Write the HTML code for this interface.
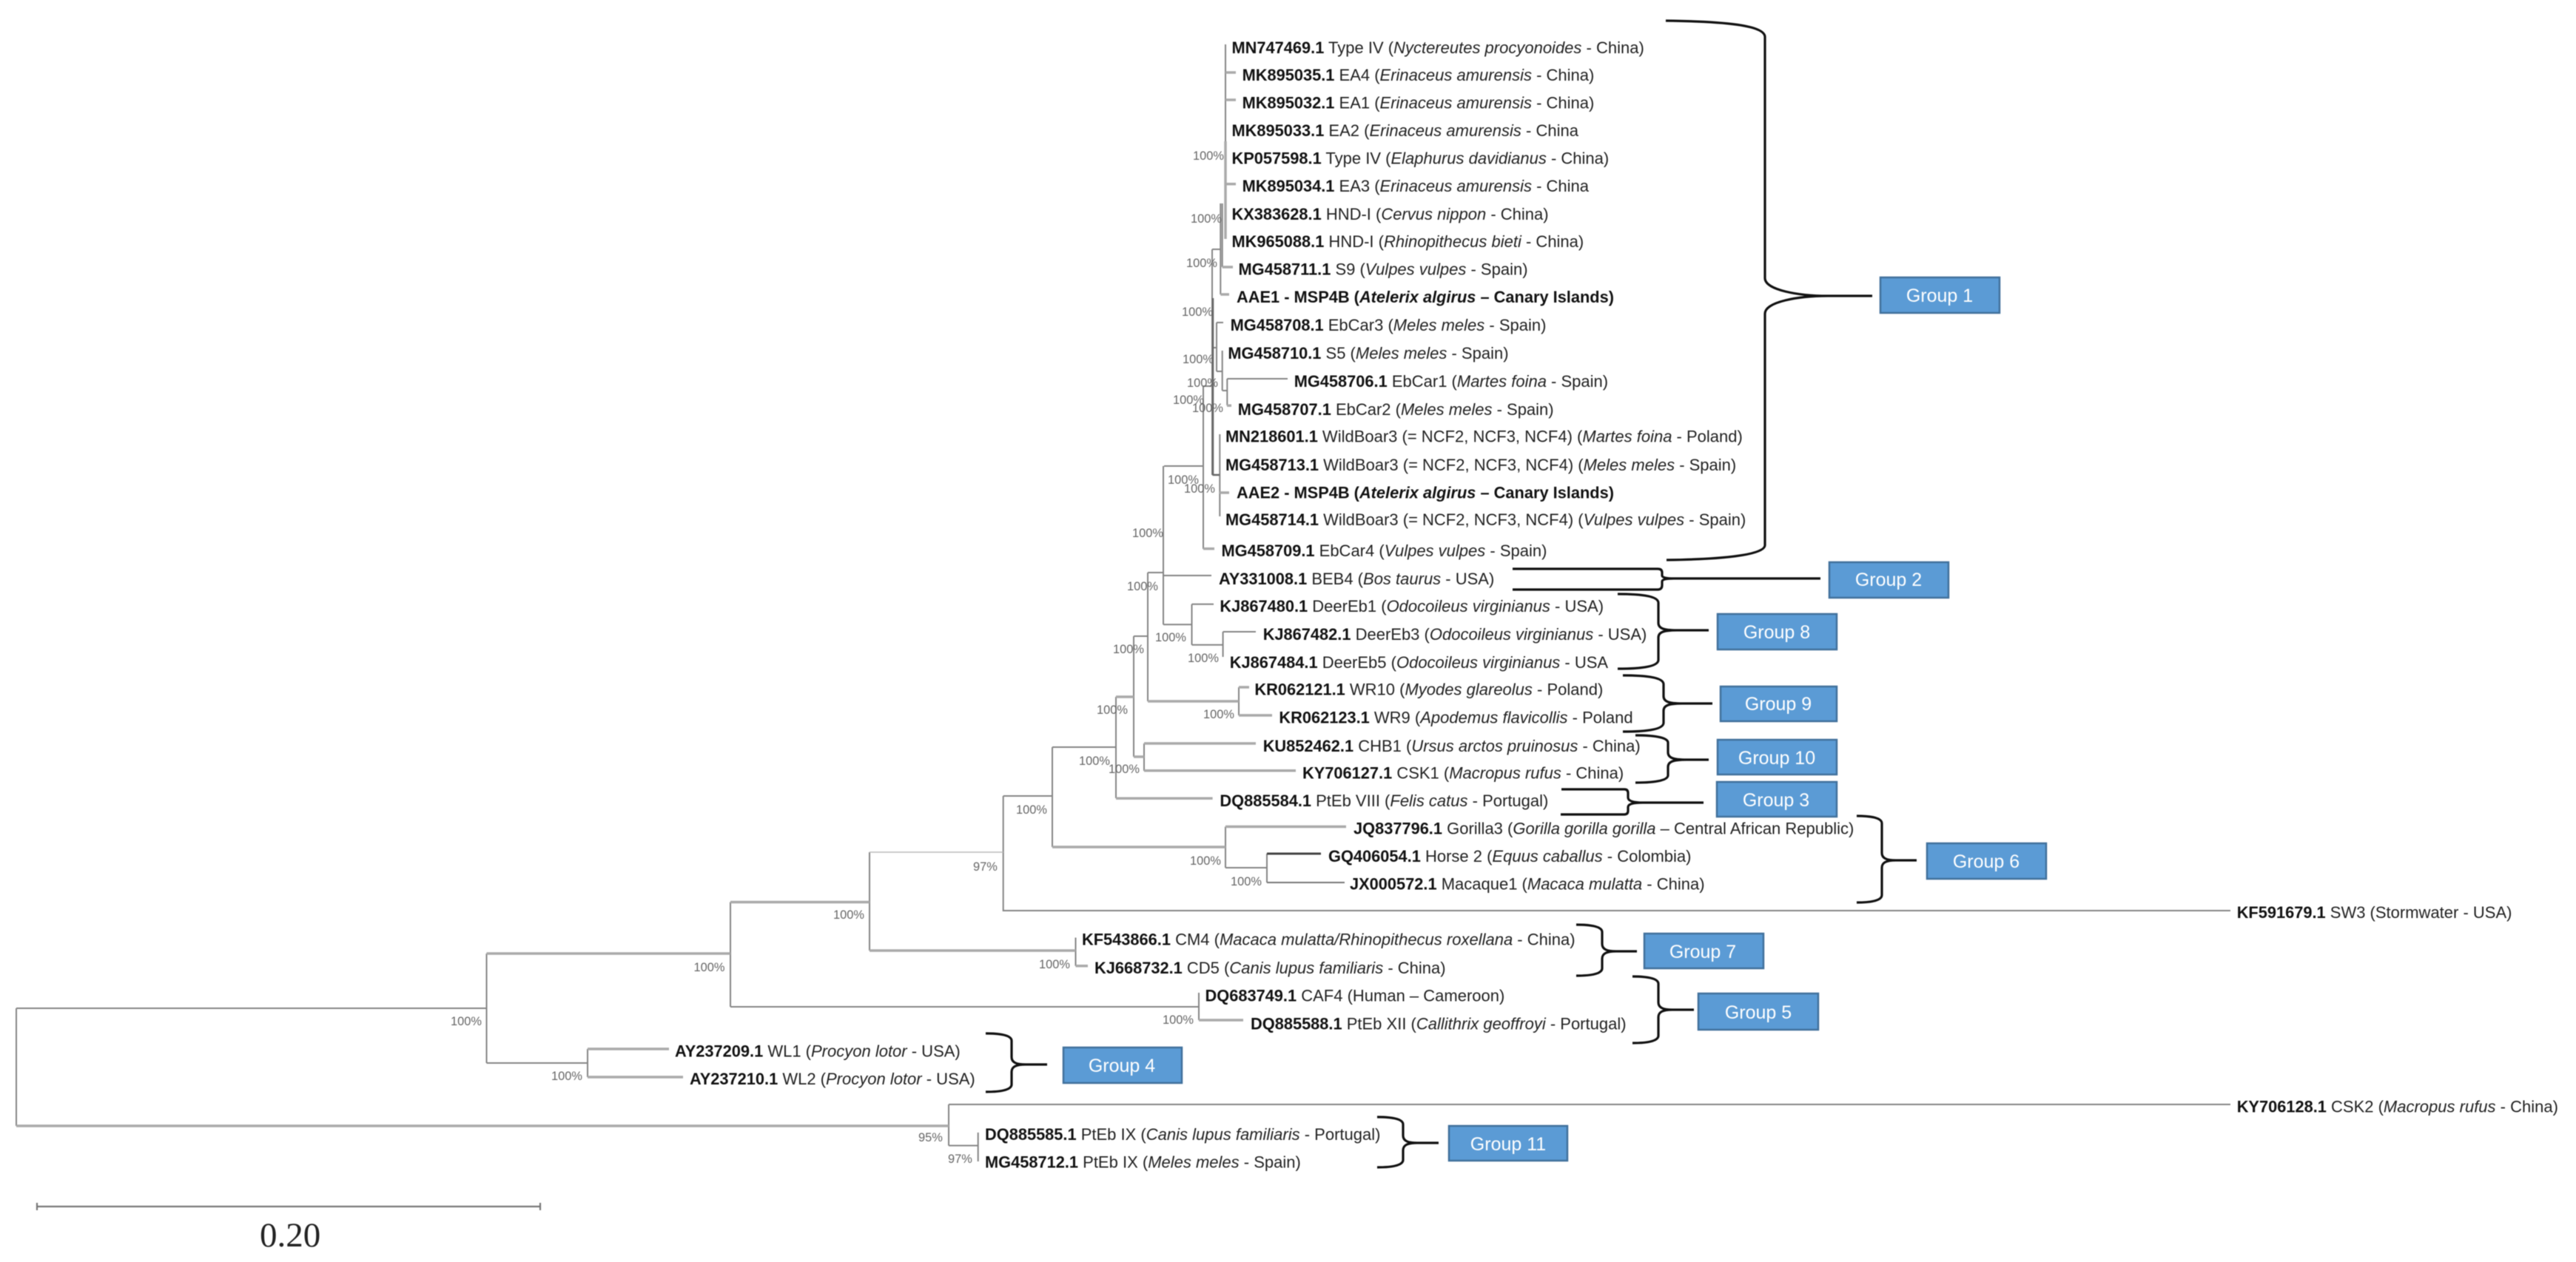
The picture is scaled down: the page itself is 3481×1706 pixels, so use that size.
<!DOCTYPE html>
<html><head><meta charset="utf-8"><style>
html,body{margin:0;padding:0;background:#fff;width:3481px;height:1706px;overflow:hidden}
svg{display:block;filter:blur(0.55px)}
.l{font:22px "Liberation Sans",sans-serif;fill:#222}
.l .b{font-weight:bold;fill:#111;font-size:21.8px}
.l .i{font-style:italic}
.p{font:16.4px "Liberation Sans",sans-serif;fill:#666}
.g{font:25px "Liberation Sans",sans-serif;fill:#fff;text-anchor:middle}
.t path{fill:none;stroke:#858585;stroke-width:2}
.t2 path{fill:none;stroke:#aaa;stroke-width:3.5}
.br path{fill:none;stroke:#111;stroke-width:3.2}
.bx rect{fill:#5b9bd5;stroke:#41719c;stroke-width:2.5}
</style></head><body>
<svg width="3481" height="1706" viewBox="0 0 3481 1706" xmlns="http://www.w3.org/2000/svg">
<rect width="3481" height="1706" fill="#fff"/>
<g class="t">
<path d="M22 1363V1522M22 1363H657.5M657.5 1289V1437M657.5 1437H794M794 1418V1456"/>
<path d="M987 1219.5V1361M987 1361H1620M1620 1342V1379"/>
<path d="M1175 1152V1285M1453.5 1267.5V1305.7"/>
<path d="M1355.7 1076V1231H3014M1355.7 1076H1422M1422 1010V1145"/>
<path d="M1656 1117.5V1173M1656 1173H1712M1712 1154V1193M1712 1193H1817"/>
<path d="M1422 1010H1508M1508 942V1079M1532 860V1023M1532 1023H1546M1546 1005V1042"/>
<path d="M1551 774V948M1551 860H1532M1551 774H1572M1572 630V844.3M1572 778H1637M1572 844.3H1610.5M1610.5 816.7V871.7M1610.5 816.7H1640M1610.5 871.7H1652.6M1652.6 854V888M1652.6 854H1697"/>
<path d="M1551 948H1674M1674 929V967"/>
<path d="M1573 630H1626M1626 522V742M1626 522H1638M1638 337V642"/>
<path d="M1638 642H1648.3M1648.3 587V698M1638 337H1649.3M1649.3 275V398M1651.7 275V361"/>
<path d="M1638 470H1644M1644 436V502M1644 436H1653M1644 502H1651.7M1651.7 474V528M1651.7 528H1658.3M1658.3 512V548M1658.3 512H1740"/>
<path d="M1282 1493H3014M1282 1493V1548.6M1282 1548.6H1321.7M1321.7 1531V1570"/>
<path d="M1656 60V192"/>
</g>
<g class="t2">
<path d="M22 1522H1282M657.5 1289H987M794 1418H904M794 1456H923"/>
<path d="M987 1219.5H1175M1175 1285H1453.5M1453.5 1305.7H1470"/>
<path d="M1620 1379H1680M1422 1145H1656M1656 1117.5H1819"/>
<path d="M1508 942H1532M1508 1079.3H1638.6M1532 1023H1546M1546 1005H1697M1546 1041.7H1751"/>
<path d="M1551 948H1674M1674 929H1688M1674 967H1719"/>
<path d="M1626 741.7H1641M1648 666H1661M1656 191V323M1656 248.7H1670M1651.7 361H1666M1649.3 398H1661M1658 548.3H1664"/>
<path d="M1656 98H1670M1656 135H1670"/>
</g>
<path d="M1175 1152H1355.7" fill="none" stroke="#bbb" stroke-width="1.5"/>
<path d="M1712 1154H1785" fill="none" stroke="#444" stroke-width="3"/>
<path d="M1712 1193H1817" fill="none" stroke="#777" stroke-width="2"/>
<path d="M1639 403V642M1639 642H1648" fill="none" stroke="#666" stroke-width="2.5"/>
<path d="M50 1631H730M50 1626V1636M730 1626V1636" fill="none" stroke="#777" stroke-width="2.2"/>

<g class="l">
<text x="1664.5" y="72"><tspan class="b">MN747469.1</tspan> Type IV (<tspan class="i">Nyctereutes procyonoides</tspan> - China)</text>
<text x="1678.6" y="109"><tspan class="b">MK895035.1</tspan> EA4 (<tspan class="i">Erinaceus amurensis</tspan> - China)</text>
<text x="1678.6" y="146.5"><tspan class="b">MK895032.1</tspan> EA1 (<tspan class="i">Erinaceus amurensis</tspan> - China)</text>
<text x="1664.5" y="184"><tspan class="b">MK895033.1</tspan> EA2 (<tspan class="i">Erinaceus amurensis</tspan> - China</text>
<text x="1664.5" y="221.5"><tspan class="b">KP057598.1</tspan> Type IV (<tspan class="i">Elaphurus davidianus</tspan> - China)</text>
<text x="1678.6" y="259"><tspan class="b">MK895034.1</tspan> EA3 (<tspan class="i">Erinaceus amurensis</tspan> - China</text>
<text x="1664.5" y="297"><tspan class="b">KX383628.1</tspan> HND-I (<tspan class="i">Cervus nippon</tspan> - China)</text>
<text x="1664.5" y="334"><tspan class="b">MK965088.1</tspan> HND-I (<tspan class="i">Rhinopithecus bieti</tspan> - China)</text>
<text x="1673.5" y="371.5"><tspan class="b">MG458711.1</tspan> S9 (<tspan class="i">Vulpes vulpes</tspan> - Spain)</text>
<text x="1671" y="409"><tspan class="b">AAE1 - MSP4B (</tspan><tspan class="b i">Atelerix algirus</tspan><tspan class="b"> – Canary Islands)</tspan></text>
<text x="1662.6" y="447"><tspan class="b">MG458708.1</tspan> EbCar3 (<tspan class="i">Meles meles</tspan> - Spain)</text>
<text x="1659.4" y="485"><tspan class="b">MG458710.1</tspan> S5 (<tspan class="i">Meles meles</tspan> - Spain)</text>
<text x="1748.7" y="523"><tspan class="b">MG458706.1</tspan> EbCar1 (<tspan class="i">Martes foina</tspan> - Spain)</text>
<text x="1672.8" y="561"><tspan class="b">MG458707.1</tspan> EbCar2 (<tspan class="i">Meles meles</tspan> - Spain)</text>
<text x="1656" y="597.5"><tspan class="b">MN218601.1</tspan> WildBoar3 (= NCF2, NCF3, NCF4) (<tspan class="i">Martes foina</tspan> - Poland)</text>
<text x="1656" y="636"><tspan class="b">MG458713.1</tspan> WildBoar3 (= NCF2, NCF3, NCF4) (<tspan class="i">Meles meles</tspan> - Spain)</text>
<text x="1671" y="673.5"><tspan class="b">AAE2 - MSP4B (</tspan><tspan class="b i">Atelerix algirus</tspan><tspan class="b"> – Canary Islands)</tspan></text>
<text x="1656" y="710"><tspan class="b">MG458714.1</tspan> WildBoar3 (= NCF2, NCF3, NCF4) (<tspan class="i">Vulpes vulpes</tspan> - Spain)</text>
<text x="1650.5" y="752"><tspan class="b">MG458709.1</tspan> EbCar4 (<tspan class="i">Vulpes vulpes</tspan> - Spain)</text>
<text x="1647" y="790"><tspan class="b">AY331008.1</tspan> BEB4 (<tspan class="i">Bos taurus</tspan> - USA)</text>
<text x="1648.4" y="827"><tspan class="b">KJ867480.1</tspan> DeerEb1 (<tspan class="i">Odocoileus virginianus</tspan> - USA)</text>
<text x="1706.7" y="865"><tspan class="b">KJ867482.1</tspan> DeerEb3 (<tspan class="i">Odocoileus virginianus</tspan> - USA)</text>
<text x="1661.8" y="903"><tspan class="b">KJ867484.1</tspan> DeerEb5 (<tspan class="i">Odocoileus virginianus</tspan> - USA</text>
<text x="1695.4" y="939.5"><tspan class="b">KR062121.1</tspan> WR10 (<tspan class="i">Myodes glareolus</tspan> - Poland)</text>
<text x="1728.4" y="977.5"><tspan class="b">KR062123.1</tspan> WR9 (<tspan class="i">Apodemus flavicollis</tspan> - Poland</text>
<text x="1706.7" y="1016"><tspan class="b">KU852462.1</tspan> CHB1 (<tspan class="i">Ursus arctos pruinosus</tspan> - China)</text>
<text x="1760" y="1052.5"><tspan class="b">KY706127.1</tspan> CSK1 (<tspan class="i">Macropus rufus</tspan> - China)</text>
<text x="1648.4" y="1090"><tspan class="b">DQ885584.1</tspan> PtEb VIII (<tspan class="i">Felis catus</tspan> - Portugal)</text>
<text x="1829" y="1127.5"><tspan class="b">JQ837796.1</tspan> Gorilla3 (<tspan class="i">Gorilla gorilla gorilla</tspan> – Central African Republic)</text>
<text x="1795" y="1165"><tspan class="b">GQ406054.1</tspan> Horse 2 (<tspan class="i">Equus caballus</tspan> - Colombia)</text>
<text x="1824" y="1202.5"><tspan class="b">JX000572.1</tspan> Macaque1 (<tspan class="i">Macaca mulatta</tspan> - China)</text>
<text x="3022.7" y="1241"><tspan class="b">KF591679.1</tspan> SW3 (Stormwater - USA)</text>
<text x="1462" y="1277.5"><tspan class="b">KF543866.1</tspan> CM4 (<tspan class="i">Macaca mulatta/Rhinopithecus roxellana</tspan> - China)</text>
<text x="1479" y="1316"><tspan class="b">KJ668732.1</tspan> CD5 (<tspan class="i">Canis lupus familiaris</tspan> - China)</text>
<text x="1628.5" y="1353.5"><tspan class="b">DQ683749.1</tspan> CAF4 (Human – Cameroon)</text>
<text x="1690" y="1391.5"><tspan class="b">DQ885588.1</tspan> PtEb XII (<tspan class="i">Callithrix geoffroyi</tspan> - Portugal)</text>
<text x="912" y="1428.5"><tspan class="b">AY237209.1</tspan> WL1 (<tspan class="i">Procyon lotor</tspan> - USA)</text>
<text x="932" y="1466"><tspan class="b">AY237210.1</tspan> WL2 (<tspan class="i">Procyon lotor</tspan> - USA)</text>
<text x="3022.7" y="1503.5"><tspan class="b">KY706128.1</tspan> CSK2 (<tspan class="i">Macropus rufus</tspan> - China)</text>
<text x="1331" y="1541"><tspan class="b">DQ885585.1</tspan> PtEb IX (<tspan class="i">Canis lupus familiaris</tspan> - Portugal)</text>
<text x="1331" y="1578.5"><tspan class="b">MG458712.1</tspan> PtEb IX (<tspan class="i">Meles meles</tspan> - Spain)</text>
</g>

<g class="p">
<text x="1612" y="216">100%</text><text x="1609" y="301">100%</text><text x="1603" y="361">100%</text><text x="1597" y="427">100%</text>
<text x="1598" y="491">100%</text><text x="1604" y="523">100%</text><text x="1585" y="546">100%</text><text x="1611" y="557">100%</text>
<text x="1578" y="654">100%</text><text x="1600" y="666">100%</text><text x="1530" y="726">100%</text>
<text x="1523" y="798">100%</text><text x="1561" y="867">100%</text><text x="1504" y="883">100%</text><text x="1605" y="895">100%</text>
<text x="1482" y="965">100%</text><text x="1626" y="971">100%</text><text x="1458" y="1034">100%</text><text x="1498" y="1045">100%</text>
<text x="1373" y="1100">100%</text><text x="1315" y="1177">97%</text><text x="1608" y="1169">100%</text><text x="1663" y="1197">100%</text>
<text x="1126" y="1242">100%</text><text x="1404" y="1309">100%</text><text x="1571" y="1384">100%</text>
<text x="1241" y="1543">95%</text><text x="1281" y="1572">97%</text>
<text x="937.5" y="1313">100%</text><text x="609" y="1386">100%</text><text x="745" y="1460">100%</text>
</g>

<g class="br">
<path d="M2251 28C2330 29 2385 34 2385 50V376C2385 392 2430 400 2470 400H2530M2470 400C2430 400 2385 408 2385 424V737C2385 750 2330 756 2252 757"/>
<path d="M2044 769H2240Q2246 769 2246 774V778Q2246 782 2262 782H2460M2262 782Q2246 782 2246 786V791Q2246 797 2240 797H2044"/>
<path d="M2186 803C2213 803 2241 805 2241 815V842C2241 849 2247 852 2266 852H2309M2266 852C2247 852 2241 855 2241 862V892C2241 902 2213 904 2186 904"/>
<path d="M2193 913C2220 913 2248 915 2248 925V941C2248 948 2254 951 2273 951H2314M2273 951C2254 951 2248 954 2248 961V977C2248 987 2220 989 2193 989"/>
<path d="M2210 994C2232 994 2254 996 2254 1004V1017C2254 1024 2260 1027 2279 1027H2309M2279 1027C2260 1027 2254 1030 2254 1037V1048C2254 1056 2232 1058 2210 1058"/>
<path d="M2110 1067H2195Q2200 1067 2200 1072V1078Q2200 1085 2220 1085H2302M2220 1085Q2200 1085 2200 1091V1096Q2200 1101 2195 1101H2109"/>
<path d="M2509 1103C2526 1103 2543 1105 2543 1113V1153C2543 1160 2549 1163 2562 1163H2590M2562 1163C2549 1163 2543 1166 2543 1173V1210C2543 1218 2526 1220 2509 1220"/>
<path d="M2130 1250C2148 1250 2165 1252 2165 1260V1276C2165 1283 2171 1286 2184 1286H2212M2184 1286C2171 1286 2165 1289 2165 1296V1309C2165 1317 2148 1319 2130 1319"/>
<path d="M2206 1320C2224 1320 2241 1322 2241 1330V1355C2241 1362 2247 1365 2260 1365H2289M2260 1365C2247 1365 2241 1368 2241 1375V1400C2241 1408 2224 1410 2206 1410"/>
<path d="M1332 1397C1350 1397 1367 1399 1367 1407V1429C1367 1436 1373 1439 1386 1439H1415M1386 1439C1373 1439 1367 1442 1367 1449V1466C1367 1474 1350 1476 1332 1476"/>
<path d="M1861 1510C1879 1510 1896 1512 1896 1520V1535C1896 1542 1902 1545 1915 1545H1944M1915 1545C1902 1545 1896 1548 1896 1555V1568C1896 1576 1879 1578 1861 1578"/>
</g>

<g class="bx">
<rect x="2541" y="375" width="161" height="48"/>
<rect x="2472" y="760" width="161" height="48"/>
<rect x="2321" y="830" width="161" height="48"/>
<rect x="2325" y="928" width="157" height="47"/>
<rect x="2321" y="1000" width="161" height="47"/>
<rect x="2320" y="1057" width="162" height="47"/>
<rect x="2604" y="1140" width="161" height="48"/>
<rect x="2222" y="1262" width="161" height="47"/>
<rect x="2295" y="1343" width="162" height="49"/>
<rect x="1437" y="1416" width="160" height="48"/>
<rect x="1958" y="1522" width="160" height="47"/>
</g>
<g class="g">
<text x="2621" y="408">Group 1</text>
<text x="2552" y="792">Group 2</text>
<text x="2401" y="863">Group 8</text>
<text x="2403" y="960">Group 9</text>
<text x="2401" y="1033">Group 10</text>
<text x="2400" y="1090">Group 3</text>
<text x="2684" y="1173">Group 6</text>
<text x="2301" y="1295">Group 7</text>
<text x="2376" y="1377">Group 5</text>
<text x="1516" y="1449">Group 4</text>
<text x="2038" y="1555">Group 11</text>
</g>
<text x="351" y="1685" font-family="'Liberation Serif',serif" font-size="47" fill="#222">0.20</text>
</svg>
</body></html>
